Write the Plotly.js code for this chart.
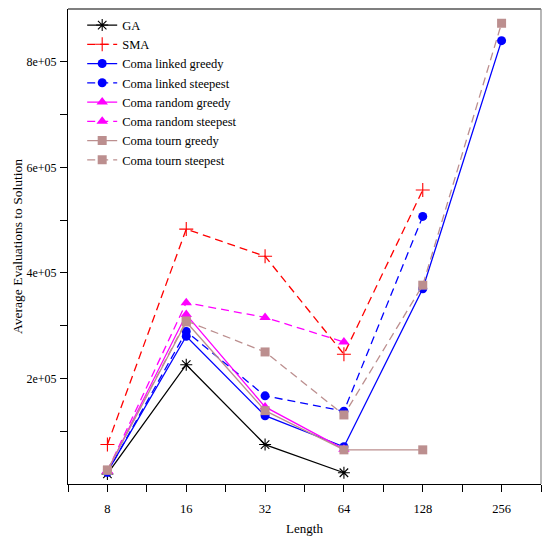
<!DOCTYPE html>
<html>
<head>
<meta charset="utf-8">
<script src="https://cdn.plot.ly/plotly-3.0.1.min.js"></script>
<style>html,body{margin:0;padding:0;background:#fff;}#chart{width:548px;height:536px;}</style>
</head>
<body>
<div id="chart"></div>
<script>
// Problem lengths (x axis, log2 scale)
const lengths = [8, 16, 32, 64, 128, 256];
const tickLabels = ["8", "16", "32", "64", "128", "256"];
const yTickVals = [200000, 400000, 600000, 800000];
const yTickLabels = ["2e+05", "4e+05", "6e+05", "8e+05"];

// Average evaluations to solution (series start at length 8)
const ga             = [19000, 226000, 74700, 21300];
const sma            = [74700, 483000, 431400, 245900, 557000];
const linkedGreedy   = [23000, 280000, 129400, 70500, 369900, 840000];
const linkedSteepest = [22000, 289000, 167000, 138000, 507000];
const randomGreedy   = [24500, 321000, 146000, 66000];
const randomSteepest = [25000, 343400, 315700, 269000];
const tournGreedy    = [26000, 307000, 139000, 64700, 64700];
const tournSteepest  = [26500, 309000, 250200, 130800, 376700, 873000];

const FONT = "Liberation Serif, Times New Roman, serif";
const DASH = "8px,5px";

function tr(name, vals, color, symbol, size, dash, open) {
  const marker = {symbol: symbol, size: size, color: color};
  if (open) marker.line = {color: color, width: 1.1};
  return {
    type: "scatter", mode: "lines+markers", name: name,
    x: lengths.slice(0, vals.length), y: vals,
    line: {color: color, width: 1.3, dash: dash},
    marker: marker
  };
}

const data = [
  tr("GA", ga, "#000000", "asterisk-open", 10, "solid", true),
  tr("SMA", sma, "#FF0000", "cross-thin-open", 10, DASH, true),
  tr("Coma linked greedy", linkedGreedy, "#0000FF", "circle", 9, "solid"),
  tr("Coma linked steepest", linkedSteepest, "#0000FF", "circle", 9, DASH),
  tr("Coma random greedy", randomGreedy, "#FF00FF", "triangle-up", 10, "solid"),
  tr("Coma random steepest", randomSteepest, "#FF00FF", "triangle-up", 10, DASH),
  tr("Coma tourn greedy", tournGreedy, "#BC8F8F", "square", 9, "solid"),
  tr("Coma tourn steepest", tournSteepest, "#BC8F8F", "square", 9, DASH)
];

const minorX = [];
for (let k = 2.5; k <= 8.5; k += 1) minorX.push(Math.pow(2, k));

const layout = {
  width: 548, height: 536, autosize: false,
  margin: {l: 68, r: 7, t: 9, b: 52, pad: 0},
  paper_bgcolor: "#ffffff", plot_bgcolor: "#ffffff",
  font: {family: FONT, size: 12, color: "#000"},
  showlegend: true,
  legend: {
    x: 0.03, y: 0.997, xanchor: "left", yanchor: "top",
    bgcolor: "rgba(0,0,0,0)", borderwidth: 0,
    font: {family: FONT, size: 12.5, color: "#000"},
    tracegroupgap: 0
  },
  xaxis: {
    type: "log",
    range: [2.5 * Math.log10(2), 8.5 * Math.log10(2)],
    tickmode: "array", tickvals: lengths, ticktext: tickLabels,
    ticks: "outside", ticklen: 7, tickwidth: 1, tickcolor: "#000",
    ticklabelstandoff: 6,
    minor: {tickmode: "array", tickvals: minorX, ticks: "outside", ticklen: 7, tickwidth: 1, tickcolor: "#000", showgrid: false},
    showline: true, linecolor: "#000", linewidth: 1,
    showgrid: false, zeroline: false,
    tickfont: {family: FONT, size: 12.5},
    title: {text: "Length", font: {family: FONT, size: 13}, standoff: 8}
  },
  yaxis: {
    range: [0, 900000],
    tickmode: "array", tickvals: yTickVals, ticktext: yTickLabels,
    ticks: "outside", ticklen: 7, tickwidth: 1, tickcolor: "#000",
    ticklabelstandoff: 1,
    minor: {tickmode: "array", tickvals: [100000, 300000, 500000, 700000], ticks: "outside", ticklen: 7, tickwidth: 1, tickcolor: "#000", showgrid: false},
    showline: true, linecolor: "#000", linewidth: 1,
    showgrid: false, zeroline: false,
    tickfont: {family: FONT, size: 12},
    title: {text: "Average Evaluations to Solution", font: {family: FONT, size: 13.5}, standoff: 0}
  },
  shapes: [
    {type: "line", xref: "paper", yref: "paper", x0: 0, x1: 1, y0: 1, y1: 1, line: {color: "#555", width: 1.5}},
    {type: "line", xref: "paper", yref: "paper", x0: 1, x1: 1, y0: 0, y1: 1, line: {color: "#888", width: 1.2}}
  ]
};

Plotly.newPlot("chart", data, layout, {displayModeBar: false, staticPlot: true});
</script>
</body>
</html>
